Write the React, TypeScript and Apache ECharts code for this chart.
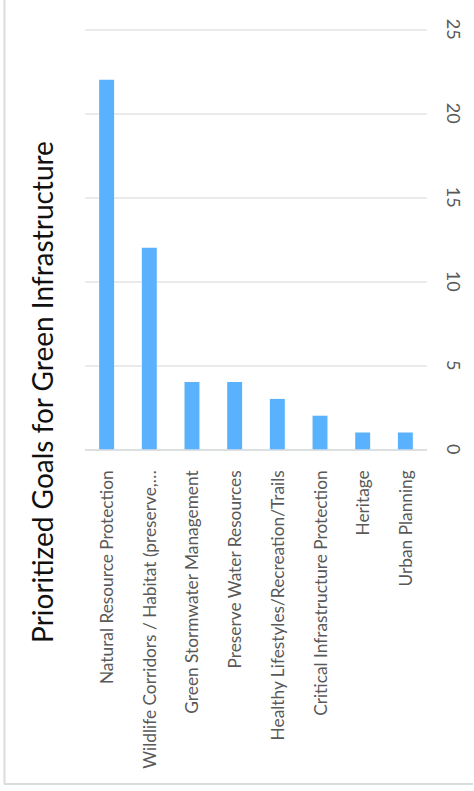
import React, { useEffect, useRef } from "react";
import * as echarts from "echarts";

const categories = [
  "Natural Resource Protection",
  "Wildlife Corridors / Habitat (preserve,…",
  "Green Stormwater Management",
  "Preserve Water Resources",
  "Healthy Lifestyles/Recreation/Trails",
  "Critical Infrastructure Protection",
  "Heritage",
  "Urban Planning",
];
const values = [22, 12, 4, 4, 3, 2, 1, 1];
const titleText = "Prioritized Goals for Green Infrastructure";

export default function App() {
  const ref = useRef<HTMLDivElement>(null);
  useEffect(() => {
    document.body.style.margin = "0";
    const chart = echarts.init(ref.current!, null, { renderer: "svg" });
    chart.setOption({
      animation: false,
      backgroundColor: "#ffffff",
      textStyle: { fontFamily: "Lato" },
      grid: { left: 85.3, right: 47.3, top: 29.3, bottom: 341.7, containLabel: false },
      xAxis: {
        type: "category",
        data: categories,
        axisTick: { show: false },
        axisLine: { lineStyle: { color: "#d9dcdc", width: 1.5 } },
        axisLabel: {
          rotate: 90,
          interval: 0,
          margin: 21,
          color: "#595959",
          fontSize: 17.3,
          fontFamily: "Lato",
        },
      },
      yAxis: {
        type: "value",
        position: "right",
        min: 0,
        max: 25,
        interval: 5,
        axisLine: { show: false },
        axisTick: { show: false },
        splitLine: { lineStyle: { color: "#e3e6e6", width: 1.5 } },
        axisLabel: {
          rotate: -90,
          margin: 18,
          color: "#595959",
          fontSize: 18,
          fontFamily: "Lato",
        },
      },
      series: [
        {
          type: "bar",
          data: values,
          barWidth: "35%",
          itemStyle: { color: "#5ab1fd" },
        },
      ],
      graphic: [
        {
          type: "text",
          x: 42,
          y: 392,
          rotation: Math.PI / 2,
          style: {
            text: titleText,
            fontSize: 28,
            fontFamily: "Lato",
            fill: "#111111",
            align: "center",
            verticalAlign: "middle",
          },
        },
        {
          type: "line",
          shape: { x1: 4.5, y1: 0, x2: 4.5, y2: 784 },
          style: { stroke: "#d9dedd", lineWidth: 2 },
        },
        {
          type: "line",
          shape: { x1: 4, y1: 784, x2: 473, y2: 784 },
          style: { stroke: "#d9dedd", lineWidth: 2 },
        },
      ],
    });
    return () => chart.dispose();
  }, []);
  return (
    <div
      ref={ref}
      style={{ position: "absolute", left: 0, top: 0, width: 474, height: 791 }}
    />
  );
}
